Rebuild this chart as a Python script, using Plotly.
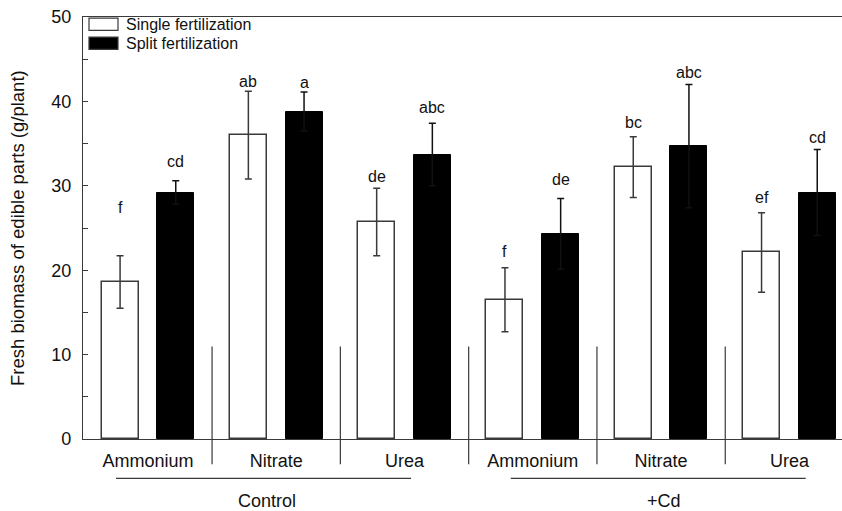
import plotly.graph_objects as go

groups = ["Ammonium", "Nitrate", "Urea", "Ammonium", "Nitrate", "Urea"]
treatments = ["Control", "+Cd"]
single_vals = [18.6, 36.0, 25.7, 16.5, 32.2, 22.1]
single_err = [3.1, 5.2, 4.0, 3.8, 3.6, 4.7]
split_vals = [29.2, 38.8, 33.7, 24.3, 34.7, 29.2]
split_err = [1.4, 2.3, 3.7, 4.2, 7.3, 5.1]
single_letters = ["f", "ab", "de", "f", "bc", "ef"]
single_letter_y = [27.4, 42.4, 31.1, 22.2, 37.5, 28.6]
split_letters = ["cd", "a", "abc", "de", "abc", "cd"]
split_letter_y = [32.9, 42.2, 39.3, 30.8, 43.4, 35.7]
y_ticks = [0, 10, 20, 30, 40, 50]

FONT = "Liberation Sans, Arial, sans-serif"
LINE = "#3a3a3a"
off = 0.217
bw = 0.288
xs = list(range(len(groups)))

fig = go.Figure()
fig.add_trace(go.Bar(
    x=[x - off for x in xs], y=single_vals, width=bw, name="Single fertilization",
    marker=dict(color="white", line=dict(color=LINE, width=1.5)),
    error_y=dict(type="data", array=single_err, color=LINE, thickness=1.5, width=3.5),
    showlegend=False, hoverinfo="skip"))
fig.add_trace(go.Bar(
    x=[x + off for x in xs], y=split_vals, width=bw, name="Split fertilization",
    marker=dict(color="black", line=dict(color="black", width=1)),
    error_y=dict(type="data", array=split_err, color="#111", thickness=1.5, width=3.5),
    showlegend=False, hoverinfo="skip"))

ann = []
for i in xs:
    ann.append(dict(x=i - off, y=single_letter_y[i], text=single_letters[i], showarrow=False,
                    xref="x", yref="y", font=dict(size=16, color="#111", family=FONT)))
    ann.append(dict(x=i + off, y=split_letter_y[i], text=split_letters[i], showarrow=False,
                    xref="x", yref="y", font=dict(size=16, color="#111", family=FONT)))

shapes = []
# separators between groups
for i in range(len(groups) - 1):
    shapes.append(dict(type="line", xref="x", yref="paper", x0=i + 0.5, x1=i + 0.5,
                       y0=-0.060, y1=0.219, line=dict(color=LINE, width=1.2)))
# treatment underlines
under = [(-0.249, 2.051, 0.93), (2.828, 5.127, 4.02)]
for (a, b, c), t in zip(under, treatments):
    shapes.append(dict(type="line", xref="x", yref="paper", x0=a, x1=b, y0=-0.0935, y1=-0.0935,
                       line=dict(color=LINE, width=1.2)))
    ann.append(dict(x=c, y=-0.147, xref="x", yref="paper", text=t, showarrow=False,
                    font=dict(size=18, color="#111", family=FONT), yanchor="middle"))

# legend (manual)
leg = [("Single fertilization", "white", 0.983), ("Split fertilization", "black", 0.938)]
for text, col, yc in leg:
    shapes.append(dict(type="rect", xref="paper", yref="paper", x0=0.0079, x1=0.0461,
                       y0=yc - 0.0145, y1=yc + 0.0145, fillcolor=col, line=dict(color=LINE, width=1.2)))
    ann.append(dict(x=0.0540, y=yc, xref="paper", yref="paper", text=text, showarrow=False,
                    xanchor="left", yanchor="middle", font=dict(size=16, color="#111", family=FONT)))

# y-axis title
ann.append(dict(x=-0.087, y=0.5, xref="paper", yref="paper", text="Fresh biomass of edible parts (g/plant)",
                textangle=-90, showarrow=False, xanchor="center", yanchor="middle",
                font=dict(size=18.5, color="#111", family=FONT)))

fig.update_layout(
    width=842, height=511,
    margin=dict(l=83, r=0, t=17, b=72, autoexpand=False),
    plot_bgcolor="white", paper_bgcolor="white",
    bargap=0, barmode="overlay",
    font=dict(family=FONT, color="#111"),
    annotations=ann, shapes=shapes,
    xaxis=dict(range=[-0.506, 5.41], tickvals=xs, ticktext=groups, showgrid=False, zeroline=False,
               showline=True, linecolor=LINE, linewidth=1.2, mirror=True, ticks="", automargin=False,
               ticklabelstandoff=5,
               tickfont=dict(size=18, family=FONT, color="#111")),
    yaxis=dict(range=[0, 50], tickvals=y_ticks, showgrid=False, zeroline=False, automargin=False,
               showline=True, linecolor=LINE, linewidth=1.2, ticks="inside", ticklen=5,
               tickcolor=LINE, tickwidth=1.2, ticklabelstandoff=7,
               minor=dict(dtick=5, tick0=0, ticks="inside", ticklen=5, tickcolor=LINE, tickwidth=1.2,
                          showgrid=False),
               tickfont=dict(size=18, family=FONT, color="#111")),
)
fig.write_html("out.html", config={"displayModeBar": False},
               post_script="document.body.style.margin='0';document.body.style.padding='0';"
                           "document.body.style.overflow='hidden';")
